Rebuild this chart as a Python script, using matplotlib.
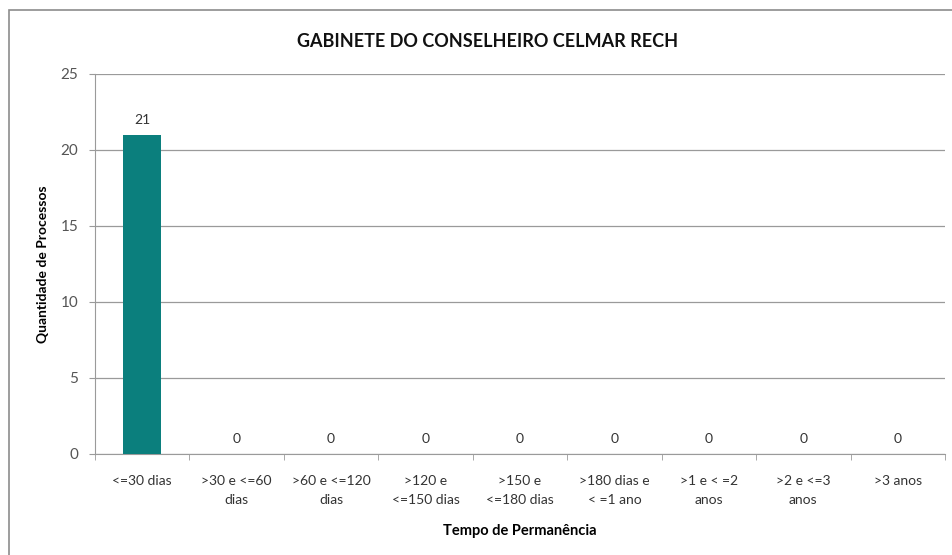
import numpy as np
import matplotlib.pyplot as plt
from matplotlib.patches import Rectangle

plt.rcParams['font.family'] = ['Lato', 'DejaVu Sans']

categorias = ['<=30 dias', '>30 e <=60\ndias', '>60 e <=120\ndias', '>120 e\n<=150 dias',
              '>150 e\n<=180 dias', '>180 dias e\n< =1 ano', '>1 e < =2\nanos', '>2 e <=3\nanos', '>3 anos']
processos = [21, 0, 0, 0, 0, 0, 0, 0, 0]
yticks = [0, 5, 10, 15, 20, 25]

fig = plt.figure(figsize=(9.52, 5.55), dpi=100)
ax = fig.add_axes([0.0998, 0.182, 0.8928, 0.685])

# moldura externa do grafico
fig.patches.append(Rectangle((0.009, -0.01), 1.0, 0.992, transform=fig.transFigure,
                             fill=False, edgecolor='#8c8c8c', linewidth=1.2))

x = np.arange(len(categorias))
bars = ax.bar(x, processos, width=0.4, color='#0b7f7d', zorder=3)
for xi, v in zip(x, processos):
    ax.text(xi, v + 0.6, str(v), ha='center', va='bottom', fontsize=10, color='#333333')

ax.set_xlim(-0.5, len(categorias) - 0.5)
ax.set_ylim(0, 25)
ax.set_yticks(yticks)
ax.yaxis.grid(True, color='#9a9a9a', linewidth=0.9, zorder=0)
ax.set_xticks(x)
ax.set_xticklabels(categorias, fontsize=10, color='#333333', linespacing=1.75)
ax.set_xticks(np.arange(-0.5, len(categorias)), minor=True)
ax.tick_params(axis='x', which='major', length=0, pad=15)
ax.tick_params(axis='x', which='minor', length=4, color='#9a9a9a')
ax.tick_params(axis='y', length=4, color='#9a9a9a', labelsize=11, labelcolor='#555555', pad=8)

for s in ['top', 'right']:
    ax.spines[s].set_visible(False)
for s in ['left', 'bottom']:
    ax.spines[s].set_color('#9a9a9a')

ax.set_ylabel('Quantidade de Processos', fontsize=10, fontweight='bold', labelpad=8)
ax.set_xlabel('Tempo de Permanência', fontsize=10.5, fontweight='bold', labelpad=13)
fig.text(0.512, 0.926, 'GABINETE DO CONSELHEIRO CELMAR RECH', ha='center', va='center',
         fontsize=13, fontweight='bold', color='#111111')

fig.savefig('out.png', dpi=100)
